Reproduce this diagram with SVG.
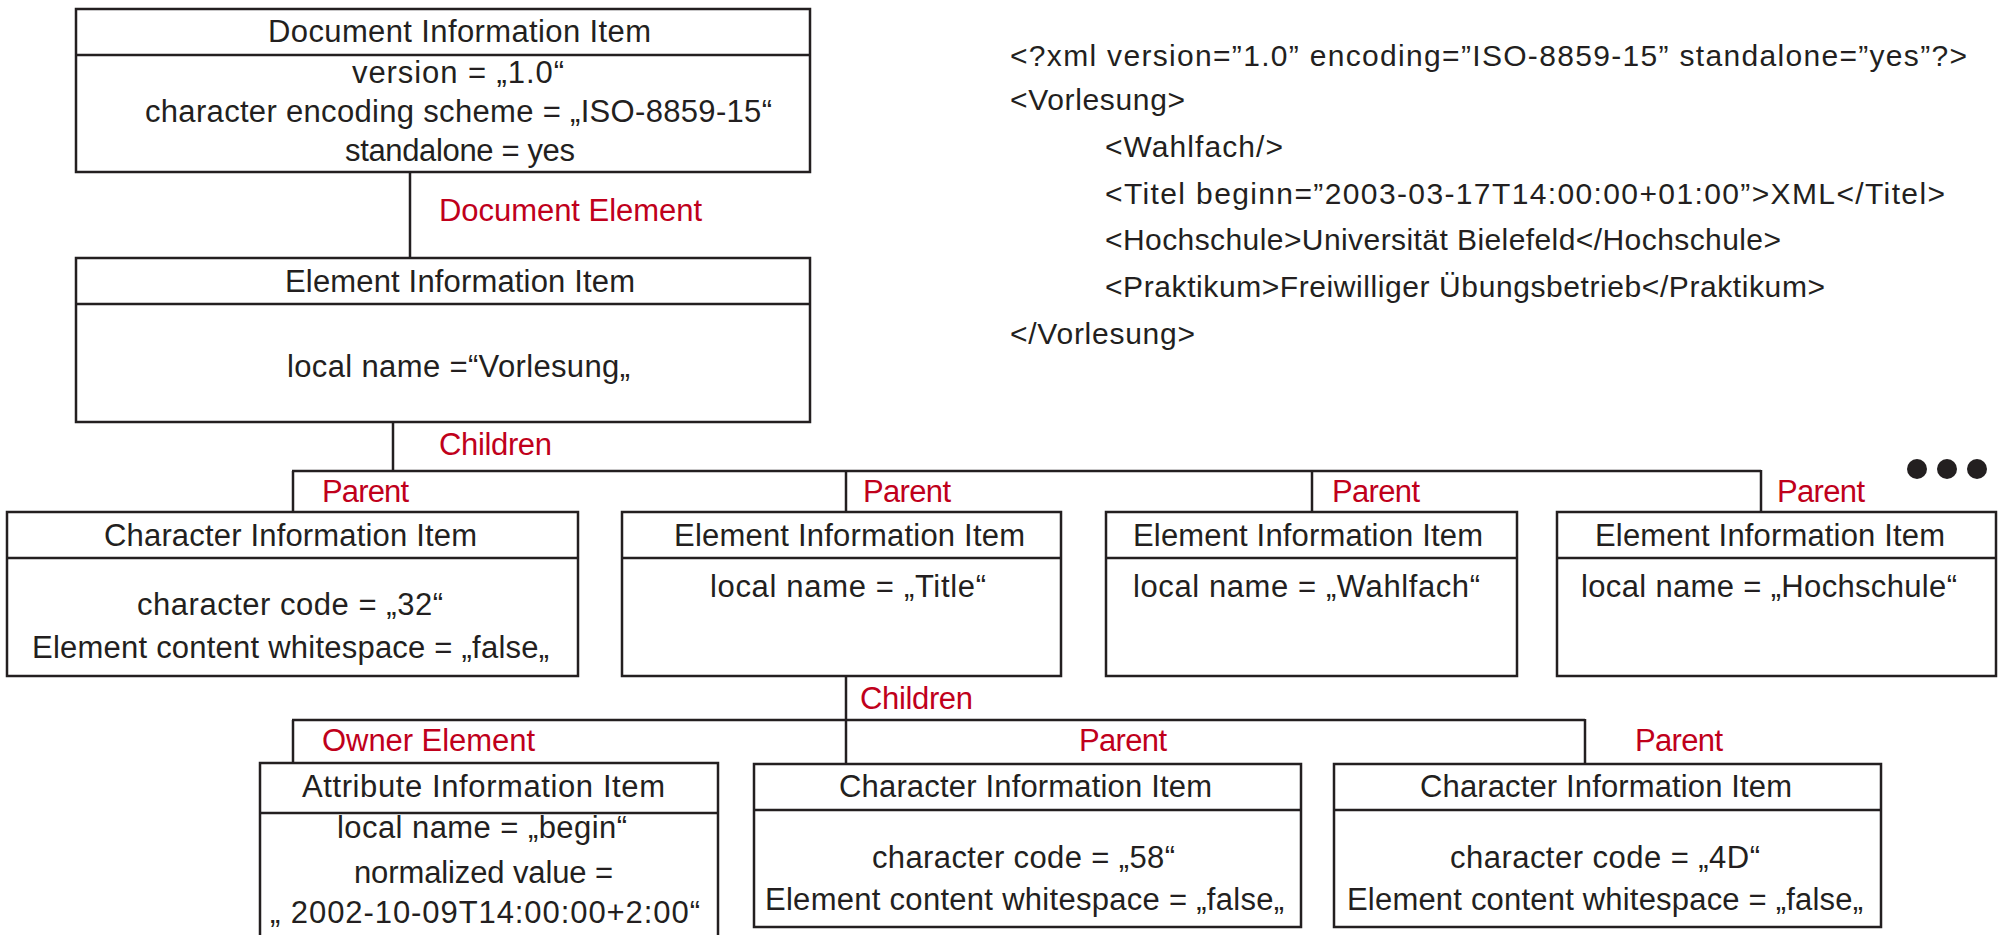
<svg xmlns="http://www.w3.org/2000/svg" width="2000" height="935" viewBox="0 0 2000 935">
<style>
.bx{fill:#fff;stroke:#231f20;stroke-width:2.5}
.ln{fill:none;stroke:#231f20;stroke-width:2.5}
.t{font-family:"Liberation Sans",Arial,sans-serif;font-size:31px;fill:#231f20}
.r{fill:#c0001b}
.x{font-size:30px}
</style>
<rect width="2000" height="935" fill="#fff"/>

<g id="connectors">
  <line class="ln" x1="410" y1="172" x2="410" y2="258"/>
  <line class="ln" x1="393" y1="422" x2="393" y2="471"/>
  <line class="ln" x1="292" y1="471" x2="1761" y2="471"/>
  <line class="ln" x1="293" y1="471" x2="293" y2="512"/>
  <line class="ln" x1="846" y1="471" x2="846" y2="512"/>
  <line class="ln" x1="1312" y1="471" x2="1312" y2="512"/>
  <line class="ln" x1="1761" y1="470" x2="1761" y2="512"/>
  <line class="ln" x1="846" y1="676" x2="846" y2="764"/>
  <line class="ln" x1="292" y1="720" x2="1585" y2="720"/>
  <line class="ln" x1="293" y1="720" x2="293" y2="763"/>
  <line class="ln" x1="1585" y1="719" x2="1585" y2="764"/>
  <g class="t r">
    <text x="439" y="221" textLength="263" lengthAdjust="spacing">Document Element</text>
    <text x="439" y="455" textLength="113" lengthAdjust="spacing">Children</text>
    <text x="322" y="502" textLength="87" lengthAdjust="spacing">Parent</text>
    <text x="863" y="502" textLength="88" lengthAdjust="spacing">Parent</text>
    <text x="1332" y="502" textLength="88" lengthAdjust="spacing">Parent</text>
    <text x="1777" y="502" textLength="88" lengthAdjust="spacing">Parent</text>
    <text x="860" y="709" textLength="113" lengthAdjust="spacing">Children</text>
    <text x="322" y="751" textLength="213" lengthAdjust="spacing">Owner Element</text>
    <text x="1079" y="751" textLength="88" lengthAdjust="spacing">Parent</text>
    <text x="1635" y="751" textLength="88" lengthAdjust="spacing">Parent</text>
  </g>
</g>

<g id="ellipsis" fill="#231f20">
  <circle cx="1917" cy="469" r="10"/>
  <circle cx="1947" cy="469" r="10"/>
  <circle cx="1977" cy="469" r="10"/>
</g>

<g id="doc-info" class="t">
  <rect class="bx" x="76" y="9" width="734" height="163"/>
  <line class="ln" x1="76" y1="55" x2="810" y2="55"/>
  <text x="268" y="42" textLength="383" lengthAdjust="spacing">Document Information Item</text>
  <text x="352" y="83" textLength="212" lengthAdjust="spacing">version = „1.0“</text>
  <text x="145" y="122" textLength="627" lengthAdjust="spacing">character encoding scheme = „ISO-8859-15“</text>
  <text x="345" y="161" textLength="230" lengthAdjust="spacing">standalone = yes</text>
</g>

<g id="element-vorlesung" class="t">
  <rect class="bx" x="76" y="258" width="734" height="164"/>
  <line class="ln" x1="76" y1="304" x2="810" y2="304"/>
  <text x="285" y="292" textLength="350" lengthAdjust="spacing">Element Information Item</text>
  <text x="287" y="377" textLength="343" lengthAdjust="spacing">local name =“Vorlesung„</text>
</g>

<g id="char-32" class="t">
  <rect class="bx" x="7" y="512" width="571" height="164"/>
  <line class="ln" x1="7" y1="558" x2="578" y2="558"/>
  <text x="104" y="546" textLength="373" lengthAdjust="spacing">Character Information Item</text>
  <text x="137" y="615" textLength="306" lengthAdjust="spacing">character code = „32“</text>
  <text x="32" y="658" textLength="517" lengthAdjust="spacing">Element content whitespace = „false„</text>
</g>

<g id="element-title" class="t">
  <rect class="bx" x="622" y="512" width="439" height="164"/>
  <line class="ln" x1="622" y1="558" x2="1061" y2="558"/>
  <text x="674" y="546" textLength="351" lengthAdjust="spacing">Element Information Item</text>
  <text x="710" y="597" textLength="276" lengthAdjust="spacing">local name = „Title“</text>
</g>

<g id="element-wahlfach" class="t">
  <rect class="bx" x="1106" y="512" width="411" height="164"/>
  <line class="ln" x1="1106" y1="558" x2="1517" y2="558"/>
  <text x="1133" y="546" textLength="350" lengthAdjust="spacing">Element Information Item</text>
  <text x="1133" y="597" textLength="347" lengthAdjust="spacing">local name = „Wahlfach“</text>
</g>

<g id="element-hochschule" class="t">
  <rect class="bx" x="1557" y="512" width="439" height="164"/>
  <line class="ln" x1="1557" y1="558" x2="1996" y2="558"/>
  <text x="1595" y="546" textLength="350" lengthAdjust="spacing">Element Information Item</text>
  <text x="1581" y="597" textLength="376" lengthAdjust="spacing">local name = „Hochschule“</text>
</g>

<g id="attr-begin" class="t">
  <rect class="bx" x="260" y="763" width="458" height="185"/>
  <line class="ln" x1="260" y1="813" x2="718" y2="813"/>
  <text x="302" y="797" textLength="363" lengthAdjust="spacing">Attribute Information Item</text>
  <text x="337" y="838" textLength="290" lengthAdjust="spacing">local name = „begin“</text>
  <text x="354" y="883" textLength="259" lengthAdjust="spacing">normalized value =</text>
  <text x="270" y="923" textLength="430" lengthAdjust="spacing">„ 2002-10-09T14:00:00+2:00“</text>
</g>

<g id="char-58" class="t">
  <rect class="bx" x="754" y="764" width="547" height="163"/>
  <line class="ln" x1="754" y1="810" x2="1301" y2="810"/>
  <text x="839" y="797" textLength="373" lengthAdjust="spacing">Character Information Item</text>
  <text x="872" y="868" textLength="303" lengthAdjust="spacing">character code = „58“</text>
  <text x="765" y="910" textLength="519" lengthAdjust="spacing">Element content whitespace = „false„</text>
</g>

<g id="char-4d" class="t">
  <rect class="bx" x="1334" y="764" width="547" height="163"/>
  <line class="ln" x1="1334" y1="810" x2="1881" y2="810"/>
  <text x="1420" y="797" textLength="372" lengthAdjust="spacing">Character Information Item</text>
  <text x="1450" y="868" textLength="310" lengthAdjust="spacing">character code = „4D“</text>
  <text x="1347" y="910" textLength="516" lengthAdjust="spacing">Element content whitespace = „false„</text>
</g>

<g id="xml-source" class="t x">
  <text x="1010" y="66" textLength="957" lengthAdjust="spacing">&lt;?xml version=”1.0” encoding=”ISO-8859-15” standalone=”yes”?&gt;</text>
  <text x="1010" y="110" textLength="175" lengthAdjust="spacing">&lt;Vorlesung&gt;</text>
  <text x="1105" y="157" textLength="178" lengthAdjust="spacing">&lt;Wahlfach/&gt;</text>
  <text x="1105" y="204" textLength="840" lengthAdjust="spacing">&lt;Titel beginn=”2003-03-17T14:00:00+01:00”&gt;XML&lt;/Titel&gt;</text>
  <text x="1105" y="250" textLength="676" lengthAdjust="spacing">&lt;Hochschule&gt;Universität Bielefeld&lt;/Hochschule&gt;</text>
  <text x="1105" y="297" textLength="720" lengthAdjust="spacing">&lt;Praktikum&gt;Freiwilliger Übungsbetrieb&lt;/Praktikum&gt;</text>
  <text x="1010" y="344" textLength="185" lengthAdjust="spacing">&lt;/Vorlesung&gt;</text>
</g>
</svg>
